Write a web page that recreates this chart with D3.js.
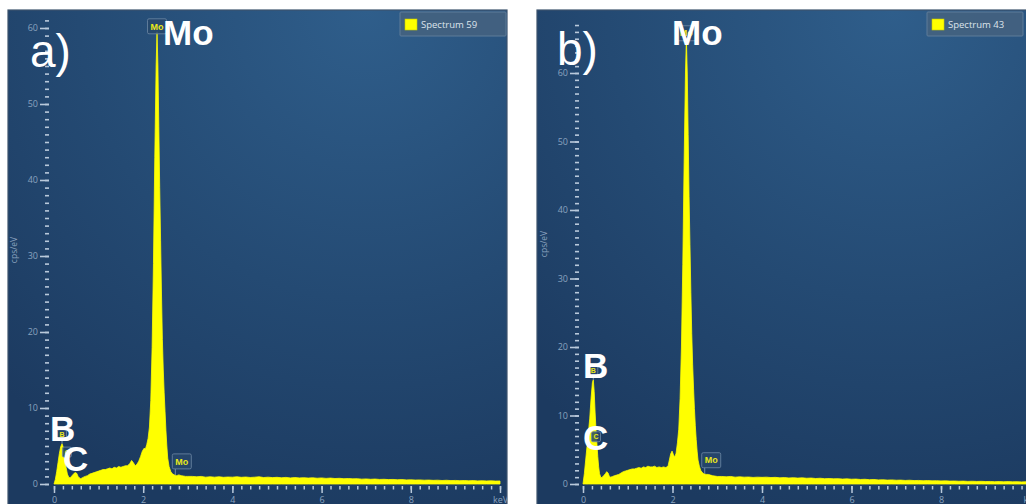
<!DOCTYPE html>
<html>
<head>
<meta charset="utf-8">
<script src="https://cdn.jsdelivr.net/npm/d3@7"></script>
<style>
  html, body { margin: 0; padding: 0; background: #ffffff; overflow: hidden; }
  svg { display: block; }
</style>
</head>
<body>
<svg id="chart" width="1026" height="504"></svg>
<script>
// ---- EDS spectra: energy (keV) and intensity (cps/eV) ----
const keVA = [
  0.00, 0.03, 0.06, 0.09, 0.12, 0.15, 0.18, 0.21, 0.24, 0.27, 0.30, 0.33, 0.36, 0.39, 0.42, 0.45, 0.48, 0.51, 0.54, 0.57,
  0.60, 0.63, 0.66, 0.70, 0.75, 0.80, 0.85, 0.90, 0.95, 1.00, 1.05, 1.10, 1.15, 1.20, 1.25, 1.30, 1.35, 1.40, 1.45, 1.50,
  1.55, 1.60, 1.65, 1.70, 1.74, 1.78, 1.82, 1.86, 1.90, 1.94, 1.98, 2.02, 2.05, 2.08, 2.11, 2.14, 2.17, 2.20, 2.23, 2.26,
  2.29, 2.31, 2.33, 2.35, 2.37, 2.39, 2.41, 2.43, 2.45, 2.47, 2.49, 2.51, 2.53, 2.55, 2.58, 2.62, 2.66, 2.70, 2.75, 2.80,
  2.85, 2.90, 2.95, 3.00, 3.1, 3.2, 3.3, 3.4, 3.5, 3.6, 3.7, 3.8, 3.9, 4.0, 4.1, 4.2, 4.3, 4.4, 4.5, 4.6,
  4.7, 4.8, 4.9, 5.0, 5.1, 5.2, 5.3, 5.4, 5.5, 5.6, 5.7, 5.8, 5.9, 6.0, 6.1, 6.2, 6.3, 6.4, 6.5, 6.6,
  6.7, 6.8, 6.9, 7.0, 7.1, 7.2, 7.3, 7.4, 7.5, 7.6, 7.7, 7.8, 7.9, 8.0, 8.1, 8.2, 8.3, 8.4, 8.5, 8.6,
  8.7, 8.8, 8.9, 9.0, 9.1, 9.2, 9.3, 9.4, 9.5, 9.6, 9.7, 9.8, 9.9, 10.0
];
const cpsA = [
  0.0, 0.6, 1.6, 2.8, 4.0, 4.9, 5.3, 4.8, 3.6, 2.2, 1.3, 0.9, 0.8, 1.0, 1.2, 1.4, 1.5, 1.4, 1.0, 0.8,
  0.7, 0.8, 0.9, 1.0, 1.1, 1.3, 1.4, 1.5, 1.6, 1.7, 1.8, 1.9, 1.9, 2.0, 2.1, 2.0, 2.2, 2.1, 2.3, 2.2,
  2.3, 2.4, 2.4, 2.7, 3.1, 2.8, 2.4, 2.6, 3.0, 3.6, 4.3, 4.7, 4.6, 5.2, 6.0, 7.5, 11.0, 18.0, 29.0, 43.0,
  55.0, 59.5, 55.0, 47.0, 39.0, 32.0, 25.0, 19.0, 15.0, 12.0, 9.5, 7.0, 5.0, 3.4, 2.3, 1.6, 1.3, 1.2, 1.1, 1.2,
  1.1, 1.05, 1.0, 1.0, 1.0, 0.95, 1.0, 0.9, 0.95, 0.9, 0.95, 0.88, 0.92, 0.9, 0.95, 0.88, 0.92, 0.86, 0.9, 0.95,
  0.85, 0.9, 0.84, 0.88, 0.82, 0.87, 0.8, 0.85, 0.8, 0.83, 0.78, 0.82, 0.76, 0.8, 0.74, 0.78, 0.72, 0.75, 0.7, 0.72,
  0.68, 0.7, 0.64, 0.67, 0.62, 0.65, 0.6, 0.62, 0.58, 0.6, 0.56, 0.58, 0.54, 0.55, 0.52, 0.54, 0.5, 0.52, 0.48, 0.5,
  0.46, 0.49, 0.45, 0.47, 0.44, 0.46, 0.42, 0.45, 0.41, 0.43, 0.4, 0.42, 0.39, 0.4
];

const keVB = [
  0.00, 0.03, 0.06, 0.09, 0.12, 0.15, 0.18, 0.21, 0.23, 0.25, 0.27, 0.29, 0.31, 0.33, 0.35, 0.37, 0.40, 0.43, 0.46, 0.50,
  0.53, 0.56, 0.59, 0.62, 0.66, 0.70, 0.75, 0.80, 0.85, 0.90, 0.95, 1.00, 1.05, 1.10, 1.15, 1.20, 1.25, 1.30, 1.35, 1.40,
  1.45, 1.50, 1.55, 1.60, 1.65, 1.70, 1.75, 1.80, 1.85, 1.90, 1.93, 1.96, 1.99, 2.02, 2.05, 2.08, 2.11, 2.14, 2.17, 2.20,
  2.23, 2.26, 2.29, 2.31, 2.33, 2.35, 2.37, 2.39, 2.41, 2.43, 2.45, 2.47, 2.49, 2.51, 2.53, 2.55, 2.57, 2.60, 2.63, 2.66,
  2.70, 2.75, 2.80, 2.85, 2.90, 2.95, 3.00, 3.1, 3.2, 3.3, 3.4, 3.5, 3.6, 3.7, 3.8, 3.9, 4.0, 4.1, 4.2, 4.3,
  4.4, 4.5, 4.6, 4.7, 4.8, 4.9, 5.0, 5.1, 5.2, 5.3, 5.4, 5.5, 5.6, 5.7, 5.8, 5.9, 6.0, 6.1, 6.2, 6.3,
  6.4, 6.5, 6.6, 6.7, 6.8, 6.9, 7.0, 7.1, 7.2, 7.3, 7.4, 7.5, 7.6, 7.7, 7.8, 7.9, 8.0, 8.1, 8.2, 8.3,
  8.4, 8.5, 8.6, 8.7, 8.8, 8.9, 9.0, 9.1, 9.2, 9.3, 9.4, 9.5, 9.6, 9.7, 9.8, 9.9, 10.0
];
const cpsB = [
  0.0, 1.5, 3.5, 5.5, 7.5, 9.5, 12.5, 14.8, 15.2, 13.5, 10.5, 8.0, 6.0, 4.0, 2.5, 1.5, 0.9, 1.0, 1.2, 1.5,
  1.8, 1.6, 1.1, 1.0, 1.1, 1.2, 1.3, 1.4, 1.6, 1.8, 1.9, 2.0, 2.1, 2.2, 2.2, 2.3, 2.4, 2.3, 2.5, 2.4,
  2.6, 2.5, 2.5, 2.6, 2.4, 2.5, 2.4, 2.5, 2.4, 2.6, 3.5, 4.4, 4.8, 4.3, 3.9, 4.5, 6.0, 8.0, 12.5, 20.0,
  32.0, 47.0, 60.0, 65.0, 60.0, 51.0, 42.0, 35.0, 28.0, 22.0, 17.5, 14.0, 11.0, 8.5, 6.5, 4.8, 3.5, 2.6, 2.0, 1.7,
  1.5, 1.4, 1.4, 1.3, 1.2, 1.15, 1.1, 1.1, 1.05, 1.1, 1.0, 1.05, 1.0, 1.02, 0.96, 1.0, 0.97, 1.0, 0.94, 0.97,
  0.9, 0.94, 0.88, 0.92, 0.86, 0.9, 0.84, 0.87, 0.8, 0.84, 0.78, 0.8, 0.76, 0.78, 0.72, 0.75, 0.7, 0.72, 0.66, 0.69,
  0.63, 0.66, 0.6, 0.62, 0.57, 0.6, 0.55, 0.57, 0.52, 0.55, 0.5, 0.52, 0.48, 0.5, 0.46, 0.48, 0.45, 0.46, 0.42, 0.44,
  0.4, 0.42, 0.38, 0.4, 0.37, 0.39, 0.36, 0.37, 0.34, 0.36, 0.33, 0.35, 0.32, 0.34, 0.31, 0.33, 0.3
];

// axis ticks
const xMajorTicks = [0, 2, 4, 6, 8, 10];
const xMajorLabels = ["0", "2", "4", "6", "8", "keV"];
const yMajorTicks = [0, 10, 20, 30, 40, 50, 60];

// element peak markers (energy in keV)
const peakNamesA = ["Mo", "B", "C", "Mo"];
const peakKeVA = [2.31, 0.18, 0.29, 2.72];
const peakNamesB = ["Mo", "B", "C", "Mo"];
const peakKeVB = [2.31, 0.23, 0.29, 2.72];

// legend entries
const spectrumNames = ["Spectrum 59", "Spectrum 43"];

// ---- layout of the two panels ----
const panels = [
  {
    keV: keVA, cps: cpsA, names: peakNamesA, peaks: peakKeVA, legendName: spectrumNames[0],
    frame: { x: 8, y: 10, w: 499, h: 500 },
    xRange: [54, 500], yRange: [484, 28], yTop: 62, yAxisX: 49,
    yTitle: { x: 17, y: 250 },
    legend: { x: 400, y: 12, w: 106, h: 24 },
    panelLabel: { text: "a)", x: 30, y: 67 },
    tagStyle: [ { kind: "top" }, { kind: "small", dy: -4 }, { kind: "small", level: 4.2 }, { kind: "low" } ],
    bigText: [ { t: "Mo", x: 163, y: 45 }, { t: "B", x: 50, y: 441 }, { t: "C", x: 63, y: 471 } ]
  },
  {
    keV: keVB, cps: cpsB, names: peakNamesB, peaks: peakKeVB, legendName: spectrumNames[1],
    frame: { x: 537, y: 10, w: 495, h: 500 },
    xRange: [583, 1030.5], yRange: [484, 73], yTop: 67.5, yAxisX: 579,
    yTitle: { x: 547, y: 244 },
    legend: { x: 927, y: 12, w: 96, h: 24 },
    panelLabel: { text: "b)", x: 557, y: 65 },
    tagStyle: [ { kind: "top" }, { kind: "small", dy: -4 }, { kind: "small", level: 6.9 }, { kind: "low" } ],
    bigText: [ { t: "Mo", x: 672, y: 45 }, { t: "B", x: 583, y: 378 }, { t: "C", x: 583, y: 450 } ]
  }
];

const svg = d3.select("#chart");
const defs = svg.append("defs");

const grad = defs.append("radialGradient")
  .attr("id", "bg").attr("cx", "72%").attr("cy", "0%").attr("r", "105%")
  .attr("fx", "72%").attr("fy", "0%");
grad.append("stop").attr("offset", "0%").attr("stop-color", "#2f5e8b");
grad.append("stop").attr("offset", "55%").attr("stop-color", "#244a73");
grad.append("stop").attr("offset", "100%").attr("stop-color", "#1c3a60");

const tickColor = "#b9c9db";
const labelColor = "#8aa2bf";

panels.forEach((p, i) => {
  const g = svg.append("g");
  const f = p.frame;

  defs.append("clipPath").attr("id", "clip" + i)
    .append("rect").attr("x", f.x).attr("y", f.y).attr("width", f.w).attr("height", f.h);

  g.append("rect")
    .attr("x", f.x).attr("y", f.y).attr("width", f.w).attr("height", f.h)
    .attr("fill", "url(#bg)")
    .attr("stroke", "#3d536d").attr("stroke-width", 1.2);

  const inner = g.append("g").attr("clip-path", `url(#clip${i})`);

  const x = d3.scaleLinear().domain([0, 10]).range(p.xRange);
  const y = d3.scaleLinear().domain([0, 60]).range(p.yRange);

  // x axis: minor ticks every 0.2 keV, major every 2 keV
  const xMinor = d3.axisBottom(x).tickValues(d3.range(0, 10.001, 0.2)).tickSize(3.5).tickFormat("");
  const xMajor = d3.axisBottom(x).tickValues(xMajorTicks).tickSize(7)
    .tickFormat((d, k) => xMajorLabels[k]).tickPadding(4);
  [xMinor, xMajor].forEach(ax => {
    const a = inner.append("g").attr("transform", "translate(0,486)").call(ax);
    a.select(".domain").remove();
    a.selectAll("line").attr("stroke", tickColor).attr("stroke-width", 1.5);
    a.selectAll("text").attr("fill", labelColor)
      .attr("font-family", "'Open Sans', 'Liberation Sans', sans-serif").attr("font-size", 9);
  });

  // y axis: minor every 1 cps/eV, labelled every 10
  const yMinor = d3.axisLeft(y).tickValues(d3.range(0, p.yTop, 1)).tickSize(4).tickFormat("");
  const yMajor = d3.axisLeft(y).tickValues(yMajorTicks).tickSize(9).tickPadding(2);
  [yMinor, yMajor].forEach(ax => {
    const a = inner.append("g").attr("transform", `translate(${p.yAxisX},0)`).call(ax);
    a.select(".domain").remove();
    a.selectAll("line").attr("stroke", tickColor).attr("stroke-width", 1.6);
    a.selectAll("text").attr("fill", labelColor)
      .attr("font-family", "'Open Sans', 'Liberation Sans', sans-serif").attr("font-size", 9);
  });

  inner.append("text")
    .attr("transform", `translate(${p.yTitle.x},${p.yTitle.y}) rotate(-90)`)
    .attr("text-anchor", "middle")
    .attr("fill", labelColor)
    .attr("font-family", "'Open Sans', 'Liberation Sans', sans-serif")
    .attr("font-size", 8.5)
    .text("cps/eV");

  // spectrum
  const pts = p.keV.map((e, k) => [e, p.cps[k]]);
  const area = d3.area().x(d => x(d[0])).y0(y(0)).y1(d => y(d[1]));
  inner.append("path").datum(pts)
    .attr("d", area)
    .attr("fill", "#ffff00")
    .attr("stroke", "#ffff00").attr("stroke-width", 0.8).attr("stroke-linejoin", "round");

  // peak identification tags
  const valueAt = e => {
    const k = d3.bisectLeft(p.keV, e);
    if (k <= 0) return p.cps[0];
    if (k >= p.keV.length) return p.cps[p.cps.length - 1];
    return Math.max(p.cps[k - 1], p.cps[k]);
  };
  p.names.forEach((name, k) => {
    const st = p.tagStyle[k];
    const e = p.peaks[k];
    const px = x(e);
    const py = y(valueAt(e));
    let bx, by, bw, bh, fs;
    if (st.kind === "top") {
      bw = 19; bh = 15; fs = 9;
      bx = px - bw / 2; by = py - 13;
    } else if (st.kind === "low") {
      bw = 19; bh = 15; fs = 9;
      bx = px - 3; by = py - 6 - bh;
    } else {
      bw = 9; bh = 10; fs = 7;
      bx = px - bw / 2;
      by = st.level !== undefined ? y(st.level) - bh / 2 : py + st.dy - bh;
    }
    const tg = inner.append("g");
    tg.append("line")
      .attr("x1", st.kind === "low" ? bx + 3 : px).attr("x2", st.kind === "low" ? bx + 3 : px)
      .attr("y1", by + bh).attr("y2", st.kind === "low" ? py : Math.max(py, by + bh))
      .attr("stroke", "#8ea4bd").attr("stroke-width", 0.8);
    tg.append("rect")
      .attr("x", bx).attr("y", by).attr("width", bw).attr("height", bh).attr("rx", 1.5)
      .attr("fill", "#27476b").attr("fill-opacity", 0.85)
      .attr("stroke", "#6f89a6").attr("stroke-width", 0.8);
    tg.append("text")
      .attr("x", bx + bw / 2).attr("y", by + bh / 2 + fs * 0.36)
      .attr("text-anchor", "middle")
      .attr("fill", "#e8e81a")
      .attr("font-family", "'Liberation Sans', Arial, sans-serif")
      .attr("font-weight", "bold")
      .attr("font-size", fs)
      .text(name);
  });

  // legend
  const L = p.legend;
  inner.append("rect")
    .attr("x", L.x).attr("y", L.y).attr("width", L.w).attr("height", L.h).attr("rx", 1)
    .attr("fill", "#44627f").attr("fill-opacity", 0.9)
    .attr("stroke", "#5f7c99").attr("stroke-width", 1);
  inner.append("rect")
    .attr("x", L.x + 5).attr("y", L.y + 7).attr("width", 12).attr("height", 11)
    .attr("fill", "#ffff00").attr("stroke", "#c8c800").attr("stroke-width", 0.6);
  inner.append("text")
    .attr("x", L.x + 21).attr("y", L.y + 16)
    .attr("fill", "#dde4ec")
    .attr("font-family", "'Open Sans', 'Liberation Sans', sans-serif")
    .attr("font-size", 9.5)
    .text(p.legendName);

  // panel letter and element labels
  inner.append("text")
    .attr("x", p.panelLabel.x).attr("y", p.panelLabel.y)
    .attr("fill", "#ffffff")
    .attr("font-family", "'Liberation Sans', Arial, sans-serif")
    .attr("font-size", 46)
    .text(p.panelLabel.text);

  p.bigText.forEach(b => {
    inner.append("text")
      .attr("x", b.x).attr("y", b.y)
      .attr("fill", "#ffffff")
      .attr("font-family", "'Liberation Sans', Arial, sans-serif")
      .attr("font-weight", "bold")
      .attr("font-size", 35)
      .text(b.t);
  });
});
</script>
</body>
</html>
